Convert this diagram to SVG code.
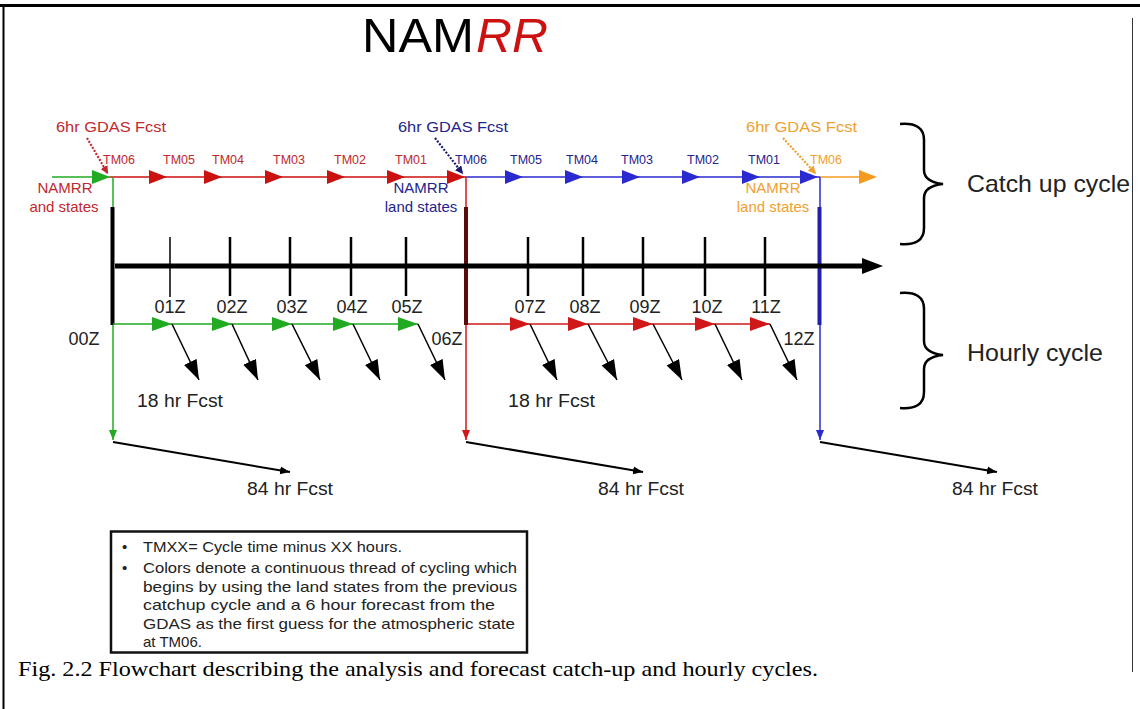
<svg xmlns="http://www.w3.org/2000/svg" xmlns:xlink="http://www.w3.org/1999/xlink" width="1140" height="709" viewBox="0 0 1140 709">
<style>
.s{font-family:"Liberation Sans",Arial,sans-serif}
.serif{font-family:"Liberation Serif","Times New Roman",serif}
.tm{font-size:12.5px;text-anchor:middle}
.red{fill:#c0282d}
.blu{fill:#23238c}
.org{fill:#f0a030}
.z{font-size:18px;fill:#222;text-anchor:middle}
.fc{font-size:17.5px;fill:#222}
.lg{font-size:15px;fill:#222}
.gd{font-size:15px}
.side{font-size:24px;fill:#222}
.st{fill:none}
</style>
<defs>
<path id="tri" d="M-18,-7 L0,0 L-18,7 Z"/>
<path id="triH" d="M-20,-7 L0,0 L-20,7 Z"/>
<marker id="ab" markerUnits="userSpaceOnUse" markerWidth="22" markerHeight="16" refX="20" refY="7" orient="auto"><path d="M0,0 L20,7 L0,14 Z" fill="#000"/></marker>
<marker id="as" markerUnits="userSpaceOnUse" markerWidth="12" markerHeight="10" refX="10" refY="4" orient="auto"><path d="M0,0 L10,4 L0,8 Z" fill="#000"/></marker>
<marker id="ag" markerUnits="userSpaceOnUse" markerWidth="12" markerHeight="10" refX="10" refY="4" orient="auto"><path d="M0,0 L10,4 L0,8 Z" fill="#22aa22"/></marker>
<marker id="ar" markerUnits="userSpaceOnUse" markerWidth="12" markerHeight="10" refX="10" refY="4" orient="auto"><path d="M0,0 L10,4 L0,8 Z" fill="#d01818"/></marker>
<marker id="abl" markerUnits="userSpaceOnUse" markerWidth="12" markerHeight="10" refX="10" refY="4" orient="auto"><path d="M0,0 L10,4 L0,8 Z" fill="#2a2ad0"/></marker>
<marker id="dr" markerUnits="userSpaceOnUse" markerWidth="10" markerHeight="10" refX="8" refY="4" orient="auto"><path d="M0,0 L8,4 L0,8 Z" fill="#c0282d"/></marker>
<marker id="db" markerUnits="userSpaceOnUse" markerWidth="10" markerHeight="10" refX="8" refY="4" orient="auto"><path d="M0,0 L8,4 L0,8 Z" fill="#1a1a6e"/></marker>
<marker id="do" markerUnits="userSpaceOnUse" markerWidth="10" markerHeight="10" refX="8" refY="4" orient="auto"><path d="M0,0 L8,4 L0,8 Z" fill="#f0a030"/></marker>
</defs>
<rect width="1140" height="709" fill="#fff"/>
<g id="frame">
<line x1="0" y1="5.5" x2="1140" y2="5.5" stroke="#000" stroke-width="3"/>
<line x1="3.5" y1="5" x2="3.5" y2="709" stroke="#000" stroke-width="2"/>
<line x1="1132.5" y1="18" x2="1132.5" y2="672" stroke="#333" stroke-width="1"/>
</g>
<g id="title" class="s">
<text x="362" y="52" font-size="48" fill="#000" textLength="112" lengthAdjust="spacingAndGlyphs">NAM</text>
<text x="476" y="52" font-size="48" fill="#cc1111" font-style="italic" textLength="72" lengthAdjust="spacingAndGlyphs">RR</text>
</g>
<g id="connectors">
<line x1="52" y1="177" x2="110" y2="177" stroke="#22aa22" stroke-width="1.5"/>
<line x1="110" y1="177" x2="465" y2="177" stroke="#cc1111" stroke-width="1.5"/>
<line x1="465" y1="177" x2="820" y2="177" stroke="#2a2ad0" stroke-width="1.5"/>
<line x1="820" y1="177" x2="870" y2="177" stroke="#f59a20" stroke-width="1.5"/>
<use xlink:href="#tri" x="110" y="177" fill="#22aa22"/>
<g fill="#cc1111">
<use xlink:href="#tri" x="167" y="177"/><use xlink:href="#tri" x="222" y="177"/><use xlink:href="#tri" x="283" y="177"/><use xlink:href="#tri" x="345" y="177"/><use xlink:href="#tri" x="405" y="177"/><use xlink:href="#tri" x="465" y="177"/>
</g>
<g fill="#2a2ad0">
<use xlink:href="#tri" x="523" y="177"/><use xlink:href="#tri" x="583" y="177"/><use xlink:href="#tri" x="640" y="177"/><use xlink:href="#tri" x="700" y="177"/><use xlink:href="#tri" x="760" y="177"/><use xlink:href="#tri" x="818" y="177"/>
</g>
<use xlink:href="#tri" x="877" y="177" fill="#f59a20"/>
<line x1="87" y1="138" x2="108" y2="174" stroke="#c0282d" stroke-width="2.2" stroke-dasharray="2,1.5" marker-end="url(#dr)"/>
<line x1="435" y1="138" x2="463" y2="174" stroke="#1a1a6e" stroke-width="2.2" stroke-dasharray="2,1.5" marker-end="url(#db)"/>
<line x1="783" y1="138" x2="816" y2="174" stroke="#f0a030" stroke-width="2.2" stroke-dasharray="2,1.5" marker-end="url(#do)"/>
<line x1="113" y1="177" x2="113" y2="440" stroke="#22aa22" stroke-width="1.5" marker-end="url(#ag)"/>
<line x1="466" y1="177" x2="466" y2="440" stroke="#d01818" stroke-width="1.5" marker-end="url(#ar)"/>
<line x1="820" y1="177" x2="820" y2="440" stroke="#2a2ad0" stroke-width="1.5" marker-end="url(#abl)"/>
<line x1="112.5" y1="207" x2="112.5" y2="325" stroke="#000" stroke-width="4"/>
<line x1="466" y1="207" x2="466" y2="325" stroke="#5a0c0c" stroke-width="4"/>
<line x1="819.5" y1="207" x2="819.5" y2="325" stroke="#2020a8" stroke-width="4"/>
<line x1="115" y1="266" x2="866" y2="266" stroke="#000" stroke-width="5"/>
<path d="M883,266 L862,258 L862,274 Z" fill="#000"/>
<g stroke="#000" stroke-width="2.5">
<line x1="170" y1="237" x2="170" y2="297" stroke-width="1.5"/>
<line x1="230" y1="237" x2="230" y2="296"/><line x1="290" y1="237" x2="290" y2="296"/><line x1="351" y1="237" x2="351" y2="296"/><line x1="406" y1="237" x2="406" y2="296"/>
<line x1="528" y1="237" x2="528" y2="296"/><line x1="583" y1="237" x2="583" y2="296"/><line x1="643" y1="237" x2="643" y2="296"/><line x1="705" y1="237" x2="705" y2="296"/><line x1="765" y1="237" x2="765" y2="296"/>
</g>
<line x1="113" y1="324" x2="418" y2="324" stroke="#22aa22" stroke-width="1.5"/>
<line x1="468" y1="324" x2="770" y2="324" stroke="#d01818" stroke-width="1.5"/>
<g fill="#22aa22">
<use xlink:href="#triH" x="172" y="324"/><use xlink:href="#triH" x="232" y="324"/><use xlink:href="#triH" x="292" y="324"/><use xlink:href="#triH" x="353" y="324"/><use xlink:href="#triH" x="418" y="324"/>
</g>
<g fill="#d01818">
<use xlink:href="#triH" x="530" y="324"/><use xlink:href="#triH" x="588" y="324"/><use xlink:href="#triH" x="653" y="324"/><use xlink:href="#triH" x="715" y="324"/><use xlink:href="#triH" x="770" y="324"/>
</g>
<g stroke="#000" stroke-width="1.5" marker-end="url(#ab)">
<line x1="172" y1="324" x2="199" y2="380"/><line x1="232" y1="324" x2="258" y2="380"/><line x1="292" y1="324" x2="320" y2="380"/><line x1="353" y1="324" x2="380" y2="380"/><line x1="418" y1="324" x2="445" y2="380"/>
<line x1="530" y1="324" x2="557" y2="380"/><line x1="588" y1="324" x2="617" y2="380"/><line x1="653" y1="324" x2="682" y2="380"/><line x1="715" y1="324" x2="742" y2="380"/><line x1="770" y1="324" x2="797" y2="380"/>
</g>
<g stroke="#000" stroke-width="2" marker-end="url(#as)">
<line x1="113" y1="442" x2="290" y2="472"/>
<line x1="466" y1="442" x2="643" y2="472"/>
<line x1="820" y1="442" x2="997" y2="472"/>
</g>
<path class="st" d="M900,124 Q924,122 924,140 L924,170 Q924,182 943,184 Q924,186 924,198 L924,228 Q924,246 900,244" stroke="#000" stroke-width="2.5"/>
<path class="st" d="M900,293 Q924,291 924,309 L924,341 Q924,353 943,355 Q924,357 924,369 L924,392 Q924,410 900,408" stroke="#000" stroke-width="2.5"/>
</g>
<g id="catchup-labels" class="s">
<text class="tm red" x="119" y="164">TM06</text>
<text class="tm red" x="179" y="164">TM05</text>
<text class="tm red" x="228" y="164">TM04</text>
<text class="tm red" x="289" y="164">TM03</text>
<text class="tm red" x="350" y="164">TM02</text>
<text class="tm red" x="411" y="164">TM01</text>
<text class="tm blu" x="471" y="164">TM06</text>
<text class="tm blu" x="526" y="164">TM05</text>
<text class="tm blu" x="582" y="164">TM04</text>
<text class="tm blu" x="637" y="164">TM03</text>
<text class="tm blu" x="703" y="164">TM02</text>
<text class="tm blu" x="764" y="164">TM01</text>
<text class="tm org" x="826" y="164">TM06</text>
</g>
<g id="gdas-red" class="s"><text class="red gd" x="56" y="132" textLength="110" lengthAdjust="spacingAndGlyphs">6hr GDAS Fcst</text></g>
<g id="gdas-blue" class="s"><text class="blu gd" x="398" y="132" textLength="110" lengthAdjust="spacingAndGlyphs">6hr GDAS Fcst</text></g>
<g id="gdas-orange" class="s"><text class="org gd" x="746" y="132" textLength="111" lengthAdjust="spacingAndGlyphs">6hr GDAS Fcst</text></g>
<g id="land-red" class="s" font-size="15" text-anchor="middle"><text class="red" x="65" y="193">NAMRR</text><text class="red" x="64" y="212">and states</text></g>
<g id="land-blue" class="s" font-size="15" text-anchor="middle"><text class="blu" x="421" y="193">NAMRR</text><text class="blu" x="421" y="212">land states</text></g>
<g id="land-orange" class="s" font-size="15" text-anchor="middle"><text class="org" x="773" y="193">NAMRR</text><text class="org" x="773" y="212">land states</text></g>
<g id="hour-labels" class="s">
<text class="z" x="170" y="313">01Z</text><text class="z" x="232" y="313">02Z</text><text class="z" x="292" y="313">03Z</text><text class="z" x="352" y="313">04Z</text><text class="z" x="407" y="313">05Z</text>
<text class="z" x="530" y="313">07Z</text><text class="z" x="585" y="313">08Z</text><text class="z" x="645" y="313">09Z</text><text class="z" x="707" y="313">10Z</text><text class="z" x="766" y="313">11Z</text>
<text class="z" x="84" y="345">00Z</text><text class="z" x="447" y="345">06Z</text><text class="z" x="799" y="345">12Z</text>
</g>
<g id="fcst18" class="s"><text class="fc" x="137" y="407" textLength="86" lengthAdjust="spacingAndGlyphs">18 hr Fcst</text><text class="fc" x="508" y="407" textLength="87" lengthAdjust="spacingAndGlyphs">18 hr Fcst</text></g>
<g id="fcst84" class="s"><text class="fc" x="247" y="495" textLength="86" lengthAdjust="spacingAndGlyphs">84 hr Fcst</text><text class="fc" x="598" y="495" textLength="86" lengthAdjust="spacingAndGlyphs">84 hr Fcst</text><text class="fc" x="952" y="495" textLength="86" lengthAdjust="spacingAndGlyphs">84 hr Fcst</text></g>
<g id="cycle-labels" class="s"><text class="side" x="967" y="192" textLength="163" lengthAdjust="spacingAndGlyphs">Catch up cycle</text><text class="side" x="967" y="361" textLength="136" lengthAdjust="spacingAndGlyphs">Hourly cycle</text></g>
<g id="legend" class="s">
<rect x="111" y="531.5" width="416" height="121" fill="#fff" stroke="#111" stroke-width="2.5"/>
<text class="lg" x="122" y="552">•</text><text class="lg" x="143" y="552" textLength="259" lengthAdjust="spacingAndGlyphs">TMXX= Cycle time minus XX hours.</text>
<text class="lg" x="122" y="573">•</text><text class="lg" x="143" y="573" textLength="374" lengthAdjust="spacingAndGlyphs">Colors denote a continuous thread of cycling which</text>
<text class="lg" x="143" y="592" textLength="374" lengthAdjust="spacingAndGlyphs">begins by using the land states from the previous</text>
<text class="lg" x="143" y="610" textLength="352" lengthAdjust="spacingAndGlyphs">catchup cycle and a 6 hour forecast from the</text>
<text class="lg" x="143" y="629" textLength="372" lengthAdjust="spacingAndGlyphs">GDAS as the first guess for the atmospheric state</text>
<text class="lg" x="143" y="647">at TM06.</text>
</g>
<g id="caption"><text class="serif" x="18" y="676" font-size="22" fill="#000" textLength="800" lengthAdjust="spacingAndGlyphs">Fig. 2.2 Flowchart describing the analysis and forecast catch-up and hourly cycles.</text></g>
</svg>
